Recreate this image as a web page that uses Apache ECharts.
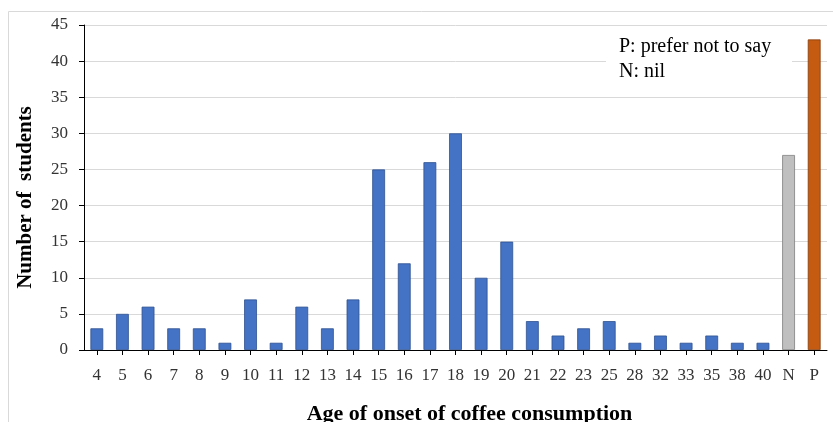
<!DOCTYPE html>
<html><head><meta charset="utf-8">
<script src="https://cdn.jsdelivr.net/npm/echarts@6/dist/echarts.min.js"></script>
<style>html,body{margin:0;padding:0;background:#fff}#c{width:833px;height:422px}</style>
</head><body><div id="c"></div>
<script>
const categories = ['4','5','6','7','8','9','10','11','12','13','14','15','16','17','18','19','20','21','22','23','25','28','32','33','35','38','40','N','P'];
const students = [3,5,6,3,3,1,7,1,6,3,7,25,12,26,30,10,15,4,2,3,4,1,2,1,2,1,1,27,43];
const yTicks = {min:0, max:45, interval:5};
const xTitle = 'Age of onset of coffee consumption';
const yTitle = 'Number of  students';
const noteLines = ['P: prefer not to say','N: nil'];

const font = '"Liberation Serif", "DejaVu Serif", serif';
function colorFor(name){return name==='P'?'#c55a11':(name==='N'?'#bfbfbf':'#4472c4');}
function borderFor(name){return name==='P'?'#843c0c':(name==='N'?'#7f7f7f':'#2f528f');}
const chart = echarts.init(document.getElementById('c'));
chart.setOption({
  animation:false,
  backgroundColor:'#fff',
  grid:{left:84, right:6, top:25, bottom:72, outerBoundsMode:'none', containLabel:false},
  graphic:[
    {type:'rect', shape:{x:8.5,y:11.5,width:830,height:420}, style:{fill:null, stroke:'#d9d9d9', lineWidth:1}, silent:true},
    {type:'rect', shape:{x:606,y:36,width:186,height:50}, style:{fill:'#fff'}, z:10},
    {type:'text', left:619, top:34, z:11, style:{text:noteLines.join('\n'), font:'20px '+font, fill:'#000', lineHeight:25}}
  ],
  xAxis:{
    type:'category', data:categories,
    name:xTitle, nameLocation:'middle', nameGap:53,
    nameTextStyle:{fontFamily:font, fontWeight:'bold', fontSize:22, color:'#000', padding:[0,0,0,28]},
    axisLine:{lineStyle:{color:'#000', width:1}},
    axisTick:{show:true, alignWithLabel:true, length:5, lineStyle:{color:'#000'}},
    axisLabel:{fontFamily:font, fontSize:17, color:'#333', margin:17, interval:0}
  },
  yAxis:{
    type:'value', min:yTicks.min, max:yTicks.max, interval:yTicks.interval,
    name:yTitle, nameLocation:'middle', nameGap:48,
    nameTextStyle:{fontFamily:font, fontWeight:'bold', fontSize:21, color:'#000', padding:[0,0,0,-20]},
    axisLine:{show:true, lineStyle:{color:'#000'}},
    axisTick:{show:true, length:5, lineStyle:{color:'#000'}},
    axisLabel:{fontFamily:font, fontSize:17, color:'#333', margin:16},
    splitLine:{lineStyle:{color:'#d9d9d9', width:1}}
  },
  series:[{
    type:'bar', barCategoryGap:'50%',
    data:students.map((v,i)=>({value:v, itemStyle:{color:colorFor(categories[i]), borderColor:borderFor(categories[i]), borderWidth:0.8}}))
  }]
});
</script></body></html>
